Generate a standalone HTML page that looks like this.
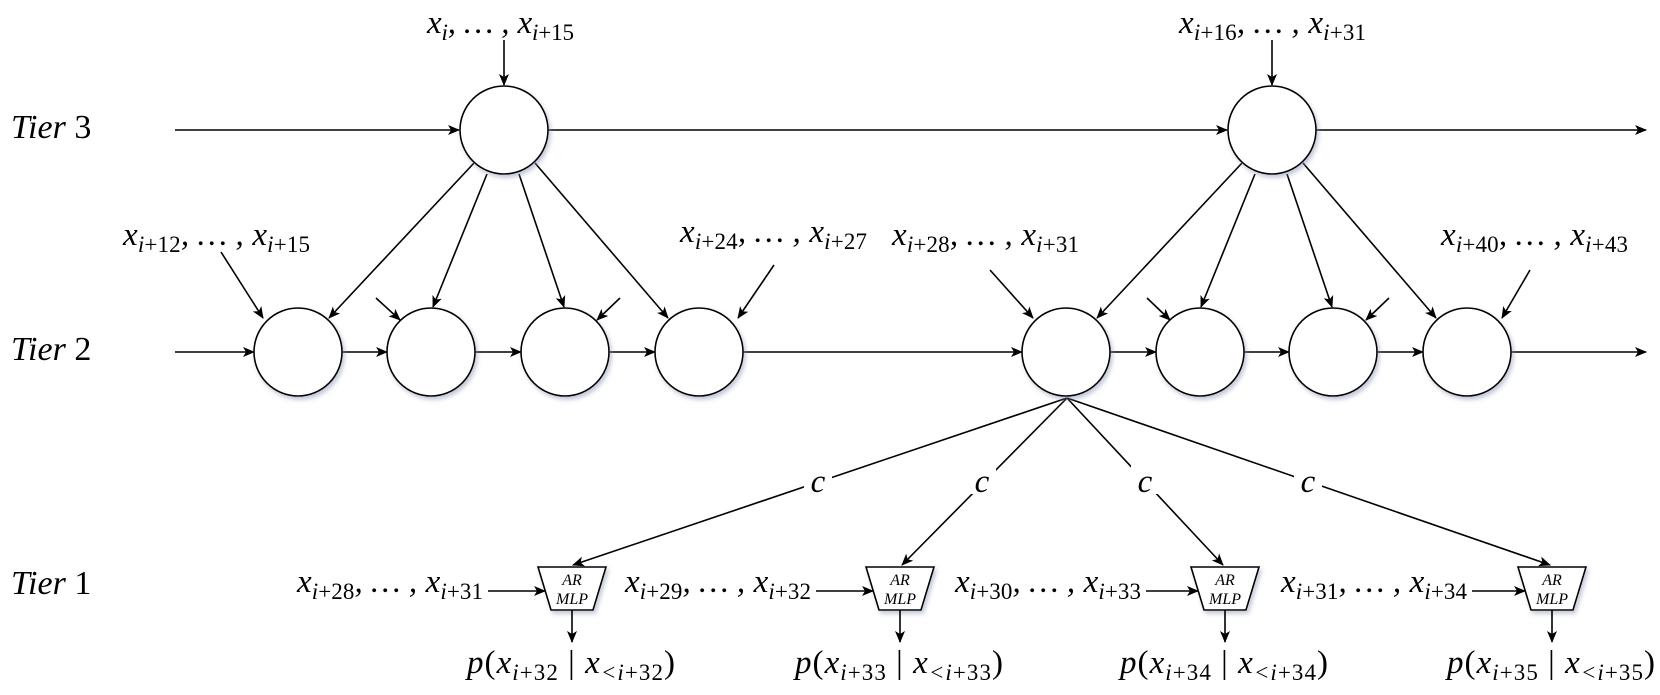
<!DOCTYPE html>
<html><head><meta charset="utf-8"><style>
html,body{margin:0;padding:0;background:#fff;}
svg{display:block;}
text{font-family:"Liberation Serif",serif;fill:#000;}
.m{font-style:italic;font-size:33px;}
.s{font-size:23px;font-style:normal;}
.si{font-size:23px;font-style:italic;}
</style></head><body>
<svg width="1660" height="695" viewBox="0 0 1660 695" xmlns="http://www.w3.org/2000/svg">
<defs>
<marker id="a" markerWidth="12" markerHeight="10" refX="11" refY="5" orient="auto" markerUnits="userSpaceOnUse">
<path d="M0,0 L12,5 L0,10 L3,5 Z" fill="#000"/></marker>
<filter id="sh" x="-20%" y="-20%" width="150%" height="150%"><feDropShadow dx="2" dy="3" stdDeviation="2" flood-color="#8890b0" flood-opacity="0.5"/></filter>
</defs>
<g stroke="#000" stroke-width="1.6" fill="none">
<line x1="175" y1="130" x2="459" y2="130" marker-end="url(#a)"/>
<line x1="548" y1="130" x2="1227" y2="130" marker-end="url(#a)"/>
<line x1="1316" y1="130" x2="1646" y2="130" marker-end="url(#a)"/>
<line x1="504" y1="40" x2="504" y2="85" marker-end="url(#a)"/>
<line x1="1272" y1="40" x2="1272" y2="85" marker-end="url(#a)"/>
<line x1="175" y1="352" x2="254" y2="352" marker-end="url(#a)"/>
<line x1="342" y1="352" x2="387" y2="352" marker-end="url(#a)"/>
<line x1="475" y1="352" x2="521" y2="352" marker-end="url(#a)"/>
<line x1="609" y1="352" x2="655" y2="352" marker-end="url(#a)"/>
<line x1="743" y1="352" x2="1022" y2="352" marker-end="url(#a)"/>
<line x1="1110" y1="352" x2="1156" y2="352" marker-end="url(#a)"/>
<line x1="1244" y1="352" x2="1289" y2="352" marker-end="url(#a)"/>
<line x1="1377" y1="352" x2="1423" y2="352" marker-end="url(#a)"/>
<line x1="1511" y1="352" x2="1646" y2="352" marker-end="url(#a)"/>
<line x1="474" y1="163" x2="329" y2="318" marker-end="url(#a)"/>
<line x1="487" y1="174" x2="433" y2="307" marker-end="url(#a)"/>
<line x1="519" y1="174" x2="564" y2="307" marker-end="url(#a)"/>
<line x1="535" y1="163" x2="668" y2="318" marker-end="url(#a)"/>
<line x1="1242" y1="163" x2="1097" y2="318" marker-end="url(#a)"/>
<line x1="1255" y1="174" x2="1201" y2="307" marker-end="url(#a)"/>
<line x1="1287" y1="174" x2="1332" y2="307" marker-end="url(#a)"/>
<line x1="1303" y1="163" x2="1436" y2="318" marker-end="url(#a)"/>
<line x1="221" y1="252" x2="263" y2="318" marker-end="url(#a)"/>
<line x1="376" y1="298" x2="400" y2="320" marker-end="url(#a)"/>
<line x1="620" y1="298" x2="597" y2="320" marker-end="url(#a)"/>
<line x1="774" y1="265" x2="738" y2="318" marker-end="url(#a)"/>
<line x1="990" y1="270" x2="1033" y2="318" marker-end="url(#a)"/>
<line x1="1147" y1="298" x2="1170" y2="320" marker-end="url(#a)"/>
<line x1="1389" y1="298" x2="1366" y2="320" marker-end="url(#a)"/>
<line x1="1530" y1="270" x2="1502" y2="318" marker-end="url(#a)"/>
<line x1="1067" y1="398" x2="573" y2="565" marker-end="url(#a)"/>
<line x1="1067" y1="398" x2="902" y2="565" marker-end="url(#a)"/>
<line x1="1067" y1="398" x2="1223" y2="565" marker-end="url(#a)"/>
<line x1="1067" y1="398" x2="1550" y2="565" marker-end="url(#a)"/>
</g>
<g fill="#fff">
<rect x="804" y="462" width="28" height="32"/><rect x="968" y="462" width="28" height="32"/>
<rect x="1131" y="462" width="28" height="32"/><rect x="1294" y="462" width="28" height="32"/>
</g>
<g stroke="#000" stroke-width="1.6" fill="#fff" filter="url(#sh)">
<circle cx="504" cy="130" r="44"/><circle cx="1272" cy="130" r="44"/>
<circle cx="298" cy="352" r="44"/><circle cx="431" cy="352" r="44"/><circle cx="565" cy="352" r="44"/><circle cx="699" cy="352" r="44"/>
<circle cx="1066" cy="352" r="44"/><circle cx="1200" cy="352" r="44"/><circle cx="1333" cy="352" r="44"/><circle cx="1467" cy="352" r="44"/>
<polygon points="538,567 606,567 593,610 551,610"/>
<polygon points="866,567 934,567 921,610 879,610"/>
<polygon points="1191,567 1259,567 1246,610 1204,610"/>
<polygon points="1518,567 1586,567 1573,610 1531,610"/>
</g>
<g stroke="#000" stroke-width="1.6" fill="none">
<line x1="488" y1="591" x2="545" y2="591" marker-end="url(#a)"/>
<line x1="572" y1="610" x2="572" y2="642" marker-end="url(#a)"/>
<line x1="816" y1="591" x2="873" y2="591" marker-end="url(#a)"/>
<line x1="900" y1="610" x2="900" y2="642" marker-end="url(#a)"/>
<line x1="1146" y1="591" x2="1198" y2="591" marker-end="url(#a)"/>
<line x1="1225" y1="610" x2="1225" y2="642" marker-end="url(#a)"/>
<line x1="1472" y1="591" x2="1525" y2="591" marker-end="url(#a)"/>
<line x1="1552" y1="610" x2="1552" y2="642" marker-end="url(#a)"/>
</g>
<g font-style="italic" font-size="16" text-anchor="middle">
<text x="572" y="585">AR</text><text x="572" y="604">MLP</text>
<text x="900" y="585">AR</text><text x="900" y="604">MLP</text>
<text x="1225" y="585">AR</text><text x="1225" y="604">MLP</text>
<text x="1552" y="585">AR</text><text x="1552" y="604">MLP</text>
</g>
<g font-size="34">
<text x="11" y="138"><tspan font-style="italic">Tier</tspan> 3</text>
<text x="11" y="360"><tspan font-style="italic">Tier</tspan> 2</text>
<text x="11" y="594"><tspan font-style="italic">Tier</tspan> 1</text>
</g>
<g class="m" text-anchor="middle">
<text x="818" y="492">c</text><text x="982" y="492">c</text><text x="1145" y="492">c</text><text x="1308" y="492">c</text>
</g>
<text class="m" x="427" y="33" textLength="147">x<tspan class="si" dy="7">i</tspan><tspan dy="-7">, … , x</tspan><tspan class="si" dy="7">i</tspan><tspan class="s">+15</tspan></text>
<text class="m" x="1179" y="33" textLength="187">x<tspan class="si" dy="7">i</tspan><tspan class="s">+16</tspan><tspan dy="-7">, … , x</tspan><tspan class="si" dy="7">i</tspan><tspan class="s">+31</tspan></text>
<text class="m" x="123" y="245" textLength="187">x<tspan class="si" dy="7">i</tspan><tspan class="s">+12</tspan><tspan dy="-7">, … , x</tspan><tspan class="si" dy="7">i</tspan><tspan class="s">+15</tspan></text>
<text class="m" x="680" y="242" textLength="187">x<tspan class="si" dy="7">i</tspan><tspan class="s">+24</tspan><tspan dy="-7">, … , x</tspan><tspan class="si" dy="7">i</tspan><tspan class="s">+27</tspan></text>
<text class="m" x="892" y="245" textLength="187">x<tspan class="si" dy="7">i</tspan><tspan class="s">+28</tspan><tspan dy="-7">, … , x</tspan><tspan class="si" dy="7">i</tspan><tspan class="s">+31</tspan></text>
<text class="m" x="1441" y="245" textLength="187">x<tspan class="si" dy="7">i</tspan><tspan class="s">+40</tspan><tspan dy="-7">, … , x</tspan><tspan class="si" dy="7">i</tspan><tspan class="s">+43</tspan></text>
<text class="m" x="297" y="592" textLength="186">x<tspan class="si" dy="7">i</tspan><tspan class="s">+28</tspan><tspan dy="-7">, … , x</tspan><tspan class="si" dy="7">i</tspan><tspan class="s">+31</tspan></text>
<text class="m" x="625" y="592" textLength="186">x<tspan class="si" dy="7">i</tspan><tspan class="s">+29</tspan><tspan dy="-7">, … , x</tspan><tspan class="si" dy="7">i</tspan><tspan class="s">+32</tspan></text>
<text class="m" x="955" y="592" textLength="186">x<tspan class="si" dy="7">i</tspan><tspan class="s">+30</tspan><tspan dy="-7">, … , x</tspan><tspan class="si" dy="7">i</tspan><tspan class="s">+33</tspan></text>
<text class="m" x="1281" y="592" textLength="186">x<tspan class="si" dy="7">i</tspan><tspan class="s">+31</tspan><tspan dy="-7">, … , x</tspan><tspan class="si" dy="7">i</tspan><tspan class="s">+34</tspan></text>
<text class="m" x="467" y="673" textLength="208">p<tspan font-style="normal">(</tspan>x<tspan class="si" dy="7">i</tspan><tspan class="s">+32</tspan><tspan dy="-7" font-style="normal"> | </tspan>x<tspan class="si" dy="7">&lt;i</tspan><tspan class="s">+32</tspan><tspan dy="-7" font-style="normal">)</tspan></text>
<text class="m" x="795" y="673" textLength="208">p<tspan font-style="normal">(</tspan>x<tspan class="si" dy="7">i</tspan><tspan class="s">+33</tspan><tspan dy="-7" font-style="normal"> | </tspan>x<tspan class="si" dy="7">&lt;i</tspan><tspan class="s">+33</tspan><tspan dy="-7" font-style="normal">)</tspan></text>
<text class="m" x="1120" y="673" textLength="208">p<tspan font-style="normal">(</tspan>x<tspan class="si" dy="7">i</tspan><tspan class="s">+34</tspan><tspan dy="-7" font-style="normal"> | </tspan>x<tspan class="si" dy="7">&lt;i</tspan><tspan class="s">+34</tspan><tspan dy="-7" font-style="normal">)</tspan></text>
<text class="m" x="1447" y="673" textLength="208">p<tspan font-style="normal">(</tspan>x<tspan class="si" dy="7">i</tspan><tspan class="s">+35</tspan><tspan dy="-7" font-style="normal"> | </tspan>x<tspan class="si" dy="7">&lt;i</tspan><tspan class="s">+35</tspan><tspan dy="-7" font-style="normal">)</tspan></text>
</svg>
</body></html>
